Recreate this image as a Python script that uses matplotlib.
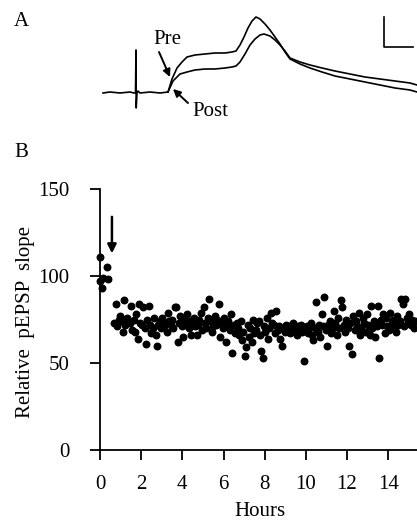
import numpy as np
import matplotlib
matplotlib.use("Agg")
from matplotlib import pyplot as plt

plt.rcParams['font.family'] = ['Liberation Serif', 'DejaVu Serif']

# ---- panel A: field potential traces (ms, mV, arbitrary scale) ----
base_t = [0.3, 1.0, 2.0, 3.0, 3.4, 3.55, 3.6, 3.62, 3.7, 3.8, 4.0, 5.0, 6.0, 6.8]
base_v = [0, 0.1, 0, 0.1, 0, 0, 4.3, -1.5, 0, 0.2, 0, 0.1, 0, 0.1]

pre_t = [6.8, 7.2, 7.7, 8.2, 8.7, 9.5, 10.5, 11.5, 12.5, 13.2, 13.6, 14.0, 14.4, 14.8,
         15.2, 15.6, 16.0, 16.5, 17.0, 17.5, 18.0, 18.5, 19.0, 20.0, 21.0, 22.2, 23.5,
         25.0, 26.5, 28.0, 29.5, 31.0, 31.7]
pre_v = [0.1, 1.4, 2.5, 3.1, 3.6, 3.8, 3.9, 4.0, 4.0, 4.1, 4.2, 4.8, 5.6, 6.5,
         7.2, 7.6, 7.4, 6.9, 6.3, 5.6, 4.9, 4.1, 3.4, 2.9, 2.5, 2.1, 1.7,
         1.4, 1.1, 0.8, 0.5, 0.3, 0.1]

post_t = [6.8, 7.3, 8.0, 8.7, 9.5, 10.5, 11.5, 12.5, 13.2, 13.6, 14.0, 14.5, 15.0, 15.5,
          16.0, 16.4, 17.0, 17.5, 18.0, 18.5, 19.0, 20.0, 21.0, 22.2, 23.5, 25.0, 26.5,
          28.0, 29.5, 31.0, 31.7]
post_v = [0.1, 1.2, 1.9, 2.1, 2.3, 2.4, 2.4, 2.5, 2.6, 2.7, 3.1, 3.9, 4.8, 5.4,
          5.8, 5.9, 5.7, 5.3, 4.8, 4.2, 3.5, 3.1, 2.8, 2.5, 2.2, 1.9, 1.6,
          1.4, 1.2, 1.0, 0.8]

# ---- panel B: relative pEPSP slope over time ----
baseline_hours = [0.0, 0.35, 0.15, 0.4, 0.1, 0.0]
baseline_slope = [111, 105, 99, 98, 93, 97]

slope_after = [
    73, 84, 71, 75, 77, 74, 68, 86, 72, 76, 74, 73, 83, 69, 75,
    68, 78, 64, 84, 73, 72, 82, 70, 61, 75, 83, 72, 67, 70, 76,
    66, 60, 72, 74, 70, 76, 71, 73, 68, 79, 74, 72, 75, 70, 82,
    82, 62, 73, 77, 71, 65, 75, 72, 78, 70, 74, 66, 73, 76, 71,
    66, 72, 75, 79, 69, 82, 73, 70, 76, 87, 74, 68, 71, 77, 72,
    75, 84, 65, 73, 70, 76, 62, 71, 74, 69, 78, 56, 72, 67, 73,
    70, 66, 74, 63, 68, 54, 59, 72, 65, 70, 62, 75, 67, 69, 73,
    74, 66, 57, 53, 71, 68, 76, 64, 70, 79, 73, 72, 67, 80, 69,
    71, 64, 60, 70, 68, 72, 69, 71, 67, 70, 73, 69, 68, 66, 71,
    70, 72, 68, 51, 69, 71, 67, 70, 73, 66, 63, 70, 85, 68, 72,
    65, 78, 71, 88, 69, 60, 72, 74, 67, 70, 80, 73, 66, 76, 70,
    86, 82, 72, 68, 75, 70, 60, 73, 55, 77, 69, 74, 71, 79, 66,
    70, 76, 73, 68, 78, 72, 66, 83, 70, 74, 65, 71, 83, 53, 75,
    72, 78, 67, 76, 71, 69, 79, 73, 75, 70, 68, 77, 72, 74, 87,
    84, 71, 87, 76, 73, 78, 72, 75, 70, 74,
]
# one sample every 4 min, starting 0.7 h
hours_after = 0.7 + np.arange(len(slope_after)) / 15.0

x_ticks = [0, 2, 4, 6, 8, 10, 12, 14]
y_ticks = [0, 50, 100, 150]

W, H = 417, 525
fig = plt.figure(figsize=(W / 100, H / 100), dpi=100)

# panel A
axA = fig.add_axes([100 / W, 1 - 115 / H, 317 / W, 105 / H])
axA.set_xlim(0, 31.7)
axA.set_ylim(-2.2, 8.3)
axA.axis('off')
axA.plot(base_t, base_v, color='black', lw=1.2)
axA.plot(pre_t, pre_v, color='black', lw=1.2)
axA.plot(post_t, post_v, color='black', lw=1.2)
# scale bar
axA.plot([28.4, 28.4, 31.3], [7.6, 4.6, 4.6], color='black', lw=1.2, clip_on=False)

arrow_kw = dict(arrowstyle='-|>', color='black', lw=1.4, shrinkA=0, shrinkB=0,
                mutation_scale=11)
axA.text(6.7, 5.3, 'Pre', ha='center', va='center', fontsize=15)
axA.annotate('', xy=(7.0, 1.6), xytext=(5.9, 4.1), arrowprops=arrow_kw)
axA.text(11.0, -1.8, 'Post', ha='center', va='center', fontsize=15)
axA.annotate('', xy=(7.3, 0.4), xytext=(8.8, -1.0), arrowprops=arrow_kw)

fig.text(21 / W, 1 - 22 / H, 'A', fontsize=15, ha='center', va='center')
fig.text(21 / W, 1 - 153 / H, 'B', fontsize=15, ha='center', va='center')

# panel B
axB = fig.add_axes([100 / W, 75 / H, 317 / W, 261 / H])
axB.scatter(baseline_hours, baseline_slope, s=22, color='black', clip_on=False, zorder=3)
axB.scatter(hours_after, slope_after, s=22, color='black', clip_on=False, zorder=3)
axB.annotate('', xy=(0.58, 113), xytext=(0.58, 134),
             arrowprops=dict(arrowstyle='-|>', color='black', lw=1.8, mutation_scale=13,
                             shrinkA=0, shrinkB=0))
axB.set_xlim(0, 15.4)
axB.set_ylim(0, 150)
axB.spines['top'].set_visible(False)
axB.spines['right'].set_visible(False)
axB.spines['left'].set_linewidth(1.3)
axB.spines['bottom'].set_linewidth(1.3)
axB.set_xticks(x_ticks)
axB.set_yticks(y_ticks)
axB.tick_params(axis='both', direction='out', length=7, width=1.3, labelsize=15)
axB.tick_params(axis='x', pad=11)
axB.tick_params(axis='y', pad=15)
fig.text(260 / W, 1 - 512 / H, 'Hours', fontsize=15, ha='center', va='center')
fig.text(26 / W, 1 - 322 / H, 'Relative  pEPSP  slope', fontsize=15,
         rotation=90, ha='center', va='center')

fig.savefig('out.png', dpi=100)
